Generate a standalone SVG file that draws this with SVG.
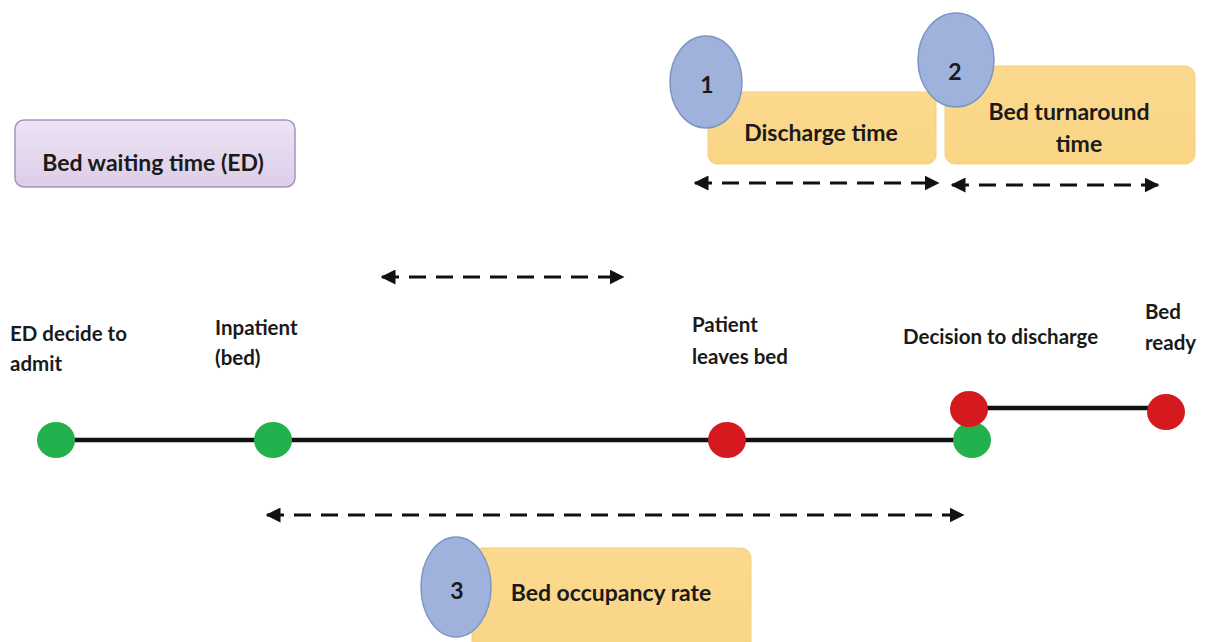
<svg xmlns="http://www.w3.org/2000/svg" width="1208" height="642" viewBox="0 0 1208 642">
<defs>
<linearGradient id="gBox" x1="0" y1="0" x2="0" y2="1"><stop offset="0" stop-color="#FBD98E"/><stop offset="1" stop-color="#F9D585"/></linearGradient>
<linearGradient id="gPur" x1="0" y1="0" x2="0" y2="1"><stop offset="0" stop-color="#EDE4F4"/><stop offset="1" stop-color="#DCCDE8"/></linearGradient>
<marker id="ah" viewBox="0 0 10 10" refX="9" refY="5" markerWidth="5" markerHeight="5" orient="auto-start-reverse" markerUnits="strokeWidth"><path d="M0,0 L10,5 L0,10 z" fill="#111"/></marker>
<style>
.t{font-family:Lato,"Open Sans","Liberation Sans",sans-serif;font-weight:bold;fill:#1a1a1a}
.bt{font-size:23px}
.lb{font-size:20.5px}
.nm{font-size:23px}
.box{fill:url(#gBox);stroke:#F5CF7E;stroke-width:1}
.circ{fill:#9FB2DC;stroke:#7E95C6;stroke-width:1.5}
.dash{stroke:#111;stroke-width:3;stroke-dasharray:17 10;fill:none;marker-start:url(#ah);marker-end:url(#ah)}
.tl{stroke:#111;stroke-width:4.5;fill:none}
.g{fill:#22B14C}
.r{fill:#D51A1F}
</style>
</defs>
<rect width="1208" height="642" fill="#fff"/>

<g id="connectors">
<line class="dash" x1="695" y1="183" x2="938" y2="183"/>
<line class="dash" x1="952" y1="185" x2="1158" y2="185"/>
<line class="dash" x1="382" y1="277" x2="623" y2="277"/>
<line class="dash" x1="267" y1="515" x2="963" y2="515"/>
<line class="tl" x1="55" y1="440" x2="972" y2="440"/>
<line class="tl" x1="969" y1="408" x2="1166" y2="408"/>
</g>

<g id="node-discharge">
<rect class="box" x="708" y="92" width="228" height="72" rx="9"/>
<text class="t bt" x="821" y="141" text-anchor="middle">Discharge time</text>
</g>
<g id="node-1">
<ellipse class="circ" cx="706" cy="82" rx="36" ry="46"/>
<text class="t nm" x="707" y="93" text-anchor="middle">1</text>
</g>

<g id="node-turnaround">
<rect class="box" x="945" y="66" width="250" height="98" rx="10"/>
<text class="t bt" x="1069" y="120" text-anchor="middle">Bed turnaround</text>
<text class="t bt" x="1079" y="152" text-anchor="middle">time</text>
</g>
<g id="node-2">
<ellipse class="circ" cx="956" cy="60" rx="38" ry="47"/>
<text class="t nm" x="955" y="80" text-anchor="middle">2</text>
</g>

<g id="node-waiting">
<rect x="15" y="120" width="280" height="67" rx="9" fill="url(#gPur)" stroke="#A494C4" stroke-width="1.5"/>
<text class="t bt" x="153" y="171" text-anchor="middle">Bed waiting time (ED)</text>
</g>

<g id="node-occupancy">
<rect class="box" x="472" y="548" width="279" height="110" rx="10"/>
<text class="t bt" x="611" y="601" text-anchor="middle">Bed occupancy rate</text>
</g>
<g id="node-3">
<ellipse class="circ" cx="456" cy="587" rx="35" ry="50"/>
<text class="t nm" x="457" y="599" text-anchor="middle">3</text>
</g>

<g id="timeline-labels">
<text class="t lb"><tspan x="10" y="341">ED decide to</tspan><tspan x="10" y="371">admit</tspan></text>
<text class="t lb"><tspan x="215" y="335">Inpatient</tspan><tspan x="215" y="365">(bed)</tspan></text>
<text class="t lb"><tspan x="692" y="332">Patient</tspan><tspan x="692" y="364">leaves bed</tspan></text>
<text class="t lb" x="903" y="344">Decision to discharge</text>
<text class="t lb"><tspan x="1145" y="319">Bed</tspan><tspan x="1145" y="350">ready</tspan></text>
</g>

<g id="node-ed-admit"><ellipse class="g" cx="56" cy="440" rx="19" ry="18"/></g>
<g id="node-inpatient"><ellipse class="g" cx="273" cy="440" rx="19" ry="18"/></g>
<g id="node-leaves"><ellipse class="r" cx="727" cy="440" rx="19" ry="18"/></g>
<g id="node-decision-green"><ellipse class="g" cx="972" cy="440" rx="19" ry="18"/></g>
<g id="node-decision-red"><ellipse class="r" cx="969" cy="409" rx="19" ry="18"/></g>
<g id="node-ready"><ellipse class="r" cx="1166" cy="412" rx="19" ry="18"/></g>
</svg>
